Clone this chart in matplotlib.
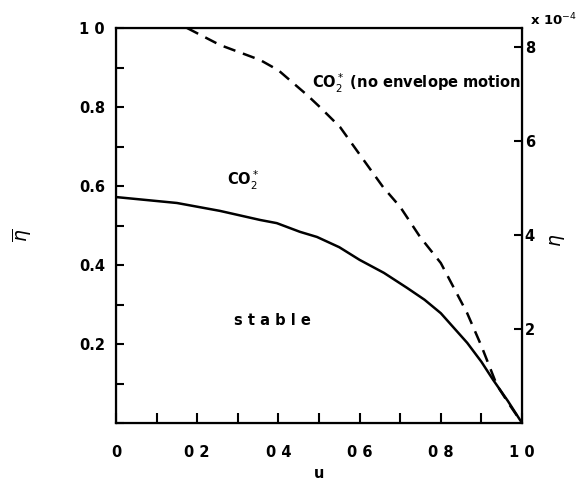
import matplotlib.pyplot as plt
import numpy as np

# --- data ---
u_solid = [0.0, 0.15, 0.256, 0.355, 0.396, 0.453, 0.495, 0.55, 0.60, 0.66, 0.717, 0.76, 0.80,
           0.865, 0.90, 0.929, 0.965, 1.0]
eta_solid = [0.572, 0.557, 0.537, 0.514, 0.506, 0.484, 0.471, 0.445, 0.413, 0.380, 0.342, 0.312,
             0.278, 0.203, 0.155, 0.109, 0.056, 0.0]

u_dash = [0.175, 0.256, 0.355, 0.40, 0.436, 0.47, 0.502, 0.552, 0.60, 0.658, 0.70, 0.749, 0.80,
          0.865, 0.90, 0.938, 0.97, 1.0]
eta_dash = [1.0, 0.957, 0.919, 0.893, 0.861, 0.831, 0.80, 0.749, 0.680, 0.597, 0.547, 0.471,
            0.405, 0.278, 0.195, 0.096, 0.045, 0.0]

x_ticks = [0.0, 0.2, 0.4, 0.6, 0.8, 1.0]
x_labels = ['0', '0 2', '0 4', '0 6', '0 8', '1 0']
y_ticks = [0.2, 0.4, 0.6, 0.8, 1.0]
y_labels = ['0.2', '0.4', '0.6', '0.8', '1 0']
r_ticks = [2, 4, 6, 8]

plt.rcParams['font.family'] = ['DejaVu Sans']
fs = 10.5

fig = plt.figure(figsize=(5.8, 4.83), dpi=100)
ax = fig.add_axes([116 / 580, 1 - 423 / 483, 406 / 580, 395 / 483])

ax.plot(u_solid, eta_solid, color='black', lw=1.8)
ax.plot(u_dash, eta_dash, color='black', lw=1.8, dashes=(5, 3.2))

ax.set_xlim(0, 1)
ax.set_ylim(0, 1)
ax.set_xticks(np.arange(0, 1.01, 0.1), minor=True)
ax.set_yticks(np.arange(0, 1.01, 0.1), minor=True)
ax.set_xticks(x_ticks)
ax.set_xticklabels(x_labels, fontsize=fs, fontweight='bold')
ax.set_yticks(y_ticks)
ax.set_yticklabels(y_labels, fontsize=fs, fontweight='bold')
ax.tick_params(which='both', direction='in', width=1.5, length=6, pad=8)
ax.tick_params(axis='x', which='both', length=7, pad=16)
for s in ax.spines.values():
    s.set_linewidth(1.6)

ax2 = ax.twinx()
ax2.set_ylim(0, 8.4)
ax2.set_yticks(r_ticks)
ax2.set_yticklabels([str(t) for t in r_ticks], fontsize=fs, fontweight='bold')
ax2.tick_params(direction='in', width=1.5, length=6, pad=2)
ax2.text(1.02, 1.0, r'x 10$^{-4}$', transform=ax.transAxes, fontsize=fs - 1,
         fontweight='bold', ha='left', va='bottom')

ax.set_xlabel('u', fontsize=fs, fontweight='bold', labelpad=4)
ax.set_ylabel(r'$\overline{\eta}$', fontsize=fs + 3)
ax.yaxis.set_label_coords(-0.205, 0.476)
ax2.set_ylabel(r'$\eta$', fontsize=fs + 3)
ax2.yaxis.set_label_coords(1.064, 0.463)

ax.text(0.313, 0.613, r'CO$_2^*$', fontsize=fs, fontweight='bold', ha='center', va='center')
ax.text(0.483, 0.86, r'CO$_2^*$ (no envelope motion', fontsize=fs, fontweight='bold',
        ha='left', va='center', clip_on=True)
ax.text(0.385, 0.26, 's t a b l e', fontsize=fs, fontweight='bold', ha='center', va='center')

fig.savefig('out.png', dpi=100)
